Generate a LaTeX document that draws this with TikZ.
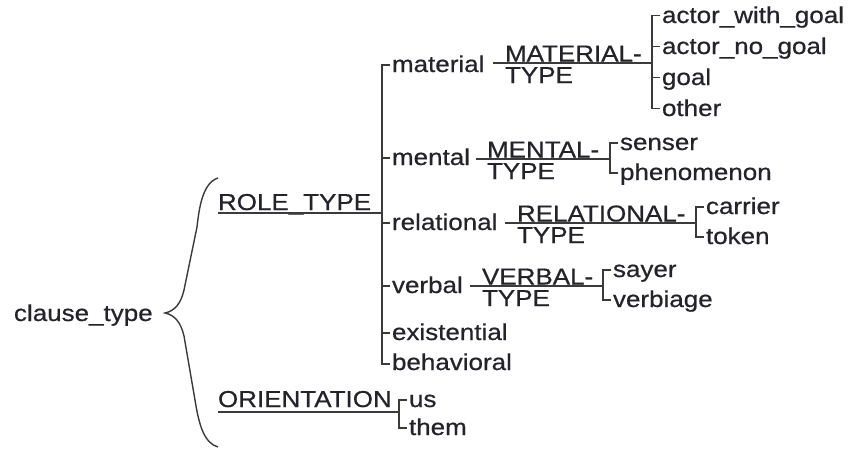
\documentclass[tikz,border=0pt]{standalone}
\usepackage{fontspec}
\setmainfont{Liberation Sans}[FakeStretch=1.13,FakeBold=0.6]
\definecolor{txt}{HTML}{23232A}
\definecolor{ln}{HTML}{3A3A3A}
\begin{document}
\begin{tikzpicture}[x=1pt,y=-1pt,
  lbl/.style={anchor=base west, inner sep=0pt, outer sep=0pt, text=txt, font=\fontsize{23}{27}\selectfont},
  conn/.style={draw=ln, line width=1.6pt},
  bracketline/.style={draw=ln, line width=1.6pt, line join=miter}]
\useasboundingbox (0,0) rectangle (852,448);
% root
\node[lbl] (ct) at (14,321) {clause\_type};
% brace
\coordinate (bt) at (218,178);
\coordinate (btip) at (165,313);
\coordinate (bb) at (218,447);
\draw[conn, line width=1.4pt] (bt) .. controls (202,183) and (199,210) .. (197,227) -- (184,290)
  .. controls (181,303) and (175,311) .. (btip)
  .. controls (175,315) and (181,323) .. (184,336) -- (195,400)
  .. controls (199,425) and (204,443) .. (bb);
% ROLE_TYPE
\node[lbl] (role) at (218,210) {ROLE\_TYPE};
\coordinate (roleL) at (218,213);
\coordinate (roleJ) at (382,213);
\draw[conn] (roleL) -- (roleJ);
\coordinate (rvT) at (382,65);
\coordinate (rvB) at (382,364);
\draw[bracketline] (390,65) -- (rvT) -- (rvB) -- (390,364);
\foreach \y in {158,223,286,333} \draw[conn] (382,\y) -- (390,\y);
\node[lbl] (material) at (392,72) {material};
\node[lbl] (mental) at (392,165) {mental};
\node[lbl] (relational) at (392,230) {relational};
\node[lbl] (verbal) at (392,293) {verbal};
\node[lbl] (existential) at (392,340) {existential};
\node[lbl] (behavioral) at (392,370) {behavioral};
% MATERIAL
\coordinate (mS) at (493,63);
\coordinate (mE) at (652,63);
\draw[conn] (mS) -- (mE);
\node[lbl] (mt1) at (505,61.5) {MATERIAL-};
\node[lbl] (mt2) at (505,83) {TYPE};
\draw[bracketline] (660,15.5) -- (652,15.5) -- (652,108.5) -- (660,108.5);
\foreach \y in {46.5,77.5} \draw[conn] (652,\y) -- (660,\y);
\node[lbl] (awg) at (662,23) {actor\_with\_goal};
\node[lbl] (ang) at (662,54) {actor\_no\_goal};
\node[lbl] (goal) at (662,85) {goal};
\node[lbl] (other) at (662,116) {other};
% MENTAL
\coordinate (meS) at (476,159);
\coordinate (meE) at (610,159);
\draw[conn] (meS) -- (meE);
\node[lbl] (me1) at (487,157.5) {MENTAL-};
\node[lbl] (me2) at (487,179) {TYPE};
\draw[bracketline] (618,143) -- (610,143) -- (610,173) -- (618,173);
\node[lbl] (senser) at (620,150) {senser};
\node[lbl] (phen) at (620,180) {phenomenon};
% RELATIONAL
\coordinate (reS) at (505,223);
\coordinate (reE) at (696,223);
\draw[conn] (reS) -- (reE);
\node[lbl] (re1) at (517,221.5) {RELATIONAL-};
\node[lbl] (re2) at (517,243) {TYPE};
\draw[bracketline] (704,207) -- (696,207) -- (696,237) -- (704,237);
\node[lbl] (carrier) at (706,214) {carrier};
\node[lbl] (token) at (706,244) {token};
% VERBAL
\coordinate (vS) at (470,286);
\coordinate (vE) at (603,286);
\draw[conn] (vS) -- (vE);
\node[lbl] (ve1) at (482,284.5) {VERBAL-};
\node[lbl] (ve2) at (482,306) {TYPE};
\draw[bracketline] (611,270) -- (603,270) -- (603,300) -- (611,300);
\node[lbl] (sayer) at (613,277) {sayer};
\node[lbl] (verbiage) at (613,307) {verbiage};
% ORIENTATION
\node[lbl] (orient) at (218,407) {ORIENTATION};
\coordinate (oL) at (218,412);
\coordinate (oJ) at (399,412);
\draw[conn] (oL) -- (oJ);
\draw[bracketline] (407,400) -- (399,400) -- (399,428) -- (407,428);
\node[lbl] (us) at (409,407) {us};
\node[lbl] (them) at (409,435) {them};
\end{tikzpicture}
\end{document}
